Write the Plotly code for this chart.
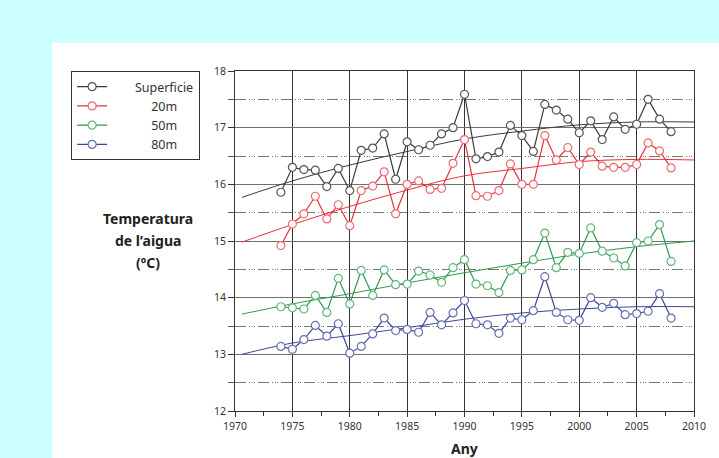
import plotly.graph_objects as go

years = list(range(1974, 2009))
superficie = [15.86, 16.30, 16.26, 16.25, 15.96, 16.28, 15.89, 16.60, 16.64, 16.89,
              16.09, 16.75, 16.61, 16.69, 16.89, 17.00, 17.59, 16.45, 16.49, 16.57,
              17.04, 16.86, 16.58, 17.41, 17.31, 17.15, 16.91, 17.12, 16.79, 17.19,
              16.97, 17.06, 17.50, 17.15, 16.93]
m20 = [14.92, 15.30, 15.48, 15.79, 15.39, 15.64, 15.27, 15.89, 15.97, 16.22,
       15.48, 16.00, 16.06, 15.91, 15.93, 16.37, 16.79, 15.80, 15.79, 15.89,
       16.36, 16.00, 16.00, 16.86, 16.43, 16.65, 16.35, 16.57, 16.32, 16.30,
       16.30, 16.35, 16.73, 16.59, 16.29]
m50 = [13.84, 13.82, 13.80, 14.04, 13.74, 14.34, 13.89, 14.48, 14.04, 14.49,
       14.23, 14.24, 14.47, 14.40, 14.27, 14.53, 14.67, 14.24, 14.21, 14.09,
       14.48, 14.49, 14.67, 15.14, 14.53, 14.80, 14.78, 15.23, 14.82, 14.70,
       14.56, 14.97, 15.00, 15.29, 14.64]
m80 = [13.14, 13.09, 13.26, 13.51, 13.32, 13.54, 13.02, 13.14, 13.36, 13.64,
       13.42, 13.44, 13.39, 13.74, 13.52, 13.73, 13.95, 13.54, 13.52, 13.37,
       13.64, 13.61, 13.77, 14.37, 13.74, 13.61, 13.60, 14.00, 13.83, 13.90,
       13.70, 13.72, 13.76, 14.07, 13.64]

trend_years = [1970.6, 1975, 1980, 1985, 1990, 1995, 2000, 2005, 2010]
trend_sup = [15.77, 16.06, 16.34, 16.58, 16.80, 16.94, 17.05, 17.10, 17.10]
trend_20 = [14.98, 15.29, 15.61, 15.90, 16.15, 16.28, 16.40, 16.44, 16.43]
trend_50 = [13.71, 13.89, 14.07, 14.26, 14.44, 14.61, 14.77, 14.90, 15.00]
trend_80 = [13.00, 13.20, 13.33, 13.47, 13.62, 13.73, 13.80, 13.84, 13.84]

names = ["Superficie", "20m", "50m", "80m"]
NB = "\u00a0"
legend_names = [NB * 7 + "Superficie",
                NB * 12 + "20m",
                NB * 12 + "50m",
                NB * 12 + "80m"]
series = [superficie, m20, m50, m80]
trends = [trend_sup, trend_20, trend_50, trend_80]
line_colors = ["#3a3a3a", "#e8303a", "#2f9a4c", "#3b4899"]
marker_colors = ["#555555", "#ee6a72", "#62b67c", "#6670b0"]

fig = go.Figure()
for tr, lc in zip(trends, line_colors):
    fig.add_trace(go.Scatter(
        x=trend_years, y=tr, mode="lines", line=dict(color=lc, width=1, shape="spline"),
        showlegend=False, hoverinfo="skip"))
for lname, vals, lc, mc in zip(legend_names, series, line_colors, marker_colors):
    fig.add_trace(go.Scatter(
        x=years, y=vals, mode="lines+markers", name=lname,
        line=dict(color=lc, width=1.2),
        marker=dict(symbol="circle", size=8, color="white", line=dict(color=mc, width=1.2))))

font_family = "Noto Sans"
fig.update_layout(
    width=719, height=458,
    margin=dict(l=235, r=25, t=71, b=47),
    paper_bgcolor="#ccffff",
    plot_bgcolor="white",
    font=dict(family=font_family, size=11, color="#333"),
    showlegend=True,
    legend=dict(x=-0.357, y=1.0, xanchor="left", yanchor="top",
                bgcolor="white", bordercolor="#333", borderwidth=1,
                font=dict(size=12.5, color="#333"), tracegroupgap=0,
                traceorder="normal"),
    shapes=[dict(type="rect", xref="paper", yref="paper",
                 x0=-0.3987, x1=1.2, y0=-0.3, y1=1.0833,
                 fillcolor="white", line=dict(width=0), layer="below")],
    annotations=[
        dict(text="<b>Temperatura</b>", xref="paper", yref="paper", x=-0.1895, y=(411 - 218) / 340,
             showarrow=False, xanchor="center", yanchor="middle", font=dict(size=14, color="#222")),
        dict(text="<b>de l’aigua</b>", xref="paper", yref="paper", x=-0.1895, y=(411 - 240) / 340,
             showarrow=False, xanchor="center", yanchor="middle", font=dict(size=14, color="#222")),
        dict(text="<b>(ºC)</b>", xref="paper", yref="paper", x=-0.1895, y=(411 - 262) / 340,
             showarrow=False, xanchor="center", yanchor="middle", font=dict(size=14, color="#222")),
        dict(text="<b>Any</b>", xref="paper", yref="paper", x=0.5, y=(411 - 448) / 340,
             showarrow=False, xanchor="center", yanchor="middle", font=dict(size=14, color="#222")),
    ],
)
fig.update_xaxes(
    range=[1970, 2010], tick0=1970, dtick=5,
    showgrid=True, gridcolor="#333", gridwidth=1,
    showline=True, linecolor="#333", linewidth=1, mirror=True,
    ticks="outside", ticklen=5, tickcolor="#333",
    minor=dict(dtick=2.5, ticks="outside", ticklen=4, tickcolor="#333", showgrid=False),
    zeroline=False, tickfont=dict(size=10.5, color="#333"))
fig.update_yaxes(
    range=[12, 18], tick0=12, dtick=1,
    showgrid=True, gridcolor="#707070", gridwidth=1.2,
    showline=True, linecolor="#333", linewidth=1, mirror=True,
    ticks="outside", ticklen=6, tickcolor="#333",
    minor=dict(dtick=0.5, ticks="outside", ticklen=6, tickcolor="#555",
               showgrid=True, gridcolor="#777", gridwidth=1.2,
               griddash="11px,3px,1px,1.5px,1px,1.5px,1px,3px"),
    zeroline=False, tickfont=dict(size=10.5, color="#333"))

fig.write_html("out.html")
